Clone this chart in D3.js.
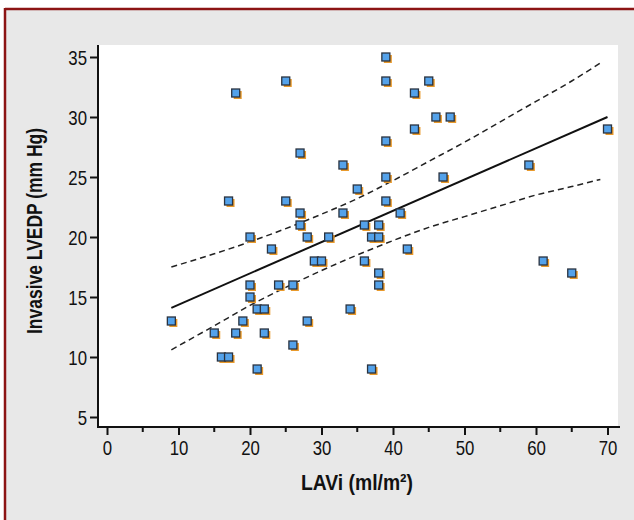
<!DOCTYPE html>
<html>
<head>
<meta charset="utf-8">
<script src="https://cdn.jsdelivr.net/npm/d3@7"></script>
<style>
  html, body { margin: 0; padding: 0; background: #fff; }
  svg { display: block; }
  .tick text { font-family: "Liberation Sans", Arial, sans-serif; font-size: 20px; fill: #111; }
  .axis-title { font-family: "Liberation Sans", Arial, sans-serif; font-weight: bold; fill: #111; }
</style>
</head>
<body>
<div id="chart"></div>
<script>
// --- Data ---
const lavi = [9, 15, 16, 17, 17, 18, 18, 19, 20, 20, 20, 21, 21, 22, 22, 23, 24, 25, 25, 26,
  26, 27, 27, 27, 28, 28, 29, 30, 31, 33, 33, 34, 35, 36, 36, 37, 37, 38, 38, 38,
  38, 39, 39, 39, 39, 39, 41, 42, 43, 43, 45, 46, 47, 48, 59, 61, 65, 70];
const lvedp = [13, 12, 10, 10, 23, 32, 12, 13, 20, 16, 15, 14, 9, 14, 12, 19, 16, 33, 23, 16,
  11, 27, 22, 21, 20, 13, 18, 18, 20, 26, 22, 14, 24, 21, 18, 20, 9, 21, 20, 17,
  16, 35, 33, 28, 25, 23, 22, 19, 32, 29, 33, 30, 25, 30, 26, 18, 17, 29];

// regression line endpoints
const fitX = [9, 70];
const fitY = [14.1, 30.0];

// 95% confidence band
const bandX = [9, 15, 20, 25, 30, 35, 40, 45, 50, 55, 60, 65, 69];
const bandUpper = [17.5, 18.6, 19.6, 20.7, 21.9, 23.2, 24.7, 26.3, 27.9, 29.6, 31.3, 33.0, 34.5];
const bandLower = [10.6, 12.6, 14.3, 15.8, 17.2, 18.5, 19.7, 20.8, 21.7, 22.6, 23.5, 24.2, 24.8];

const xTicks = [0, 10, 20, 30, 40, 50, 60, 70];
const xMinorTicks = [5, 15, 25, 35, 45, 55, 65];
const yTicks = [5, 10, 15, 20, 25, 30, 35];

// --- Layout ---
const W = 634, H = 520;
const plot = { left: 98, right: 618, top: 45, bottom: 427 };
const squeeze = 0.84; // narrow the digits, the original uses a condensed face

const x = d3.scaleLinear().domain([0, 70]).range([107, 607.5]);
const y = d3.scaleLinear().domain([5, 35]).range([417, 57]);

const svg = d3.select("#chart").append("svg").attr("width", W).attr("height", H);

// frame
svg.append("rect").attr("x", 5).attr("y", 9).attr("width", W).attr("height", H).attr("fill", "#e8e8e8");
svg.append("line").attr("x1", 5).attr("x2", W).attr("y1", 9).attr("y2", 9)
  .attr("stroke", "#8c1414").attr("stroke-width", 2.5);
svg.append("line").attr("x1", 5).attr("x2", 5).attr("y1", 8).attr("y2", H)
  .attr("stroke", "#8c1414").attr("stroke-width", 2.5);

// plot area
svg.append("rect").attr("x", plot.left).attr("y", plot.top)
  .attr("width", plot.right - plot.left).attr("height", plot.bottom - plot.top).attr("fill", "#fff");

// axes
const xAxis = svg.append("g").attr("transform", `translate(0,${plot.bottom})`)
  .call(d3.axisBottom(x).tickValues(xTicks).tickSize(8).tickPadding(6).tickSizeOuter(0));
xAxis.select(".domain").remove();
xAxis.selectAll(".tick line").attr("stroke", "#111").attr("stroke-width", 2);
xAxis.selectAll(".tick text").attr("y", 0).attr("dy", 0)
  .attr("transform", `translate(0,28) scale(${squeeze},1)`);

svg.append("g").attr("transform", `translate(0,${plot.bottom})`)
  .selectAll("line").data(xMinorTicks).join("line")
  .attr("x1", d => x(d)).attr("x2", d => x(d)).attr("y1", 0).attr("y2", 5)
  .attr("stroke", "#111").attr("stroke-width", 2);

const yAxis = svg.append("g").attr("transform", `translate(${plot.left},0)`)
  .call(d3.axisLeft(y).tickValues(yTicks).tickSize(8).tickPadding(4).tickSizeOuter(0));
yAxis.select(".domain").remove();
yAxis.selectAll(".tick line").attr("stroke", "#111").attr("stroke-width", 2);
yAxis.selectAll(".tick text").attr("x", 0).attr("dy", "0.36em")
  .attr("transform", `translate(-11,0) scale(${squeeze},1)`);

svg.append("line").attr("x1", plot.left).attr("x2", 620).attr("y1", plot.bottom).attr("y2", plot.bottom)
  .attr("stroke", "#111").attr("stroke-width", 2);
svg.append("line").attr("x1", plot.left).attr("x2", plot.left).attr("y1", plot.top).attr("y2", plot.bottom + 1)
  .attr("stroke", "#111").attr("stroke-width", 2);

// titles
svg.append("text").attr("class", "axis-title")
  .attr("transform", "translate(42,231) rotate(-90)")
  .attr("text-anchor", "middle").attr("font-size", 22)
  .attr("textLength", 206).attr("lengthAdjust", "spacingAndGlyphs")
  .text("Invasive LVEDP (mm Hg)");
svg.append("text").attr("class", "axis-title")
  .attr("x", 357).attr("y", 490).attr("text-anchor", "middle").attr("font-size", 22)
  .attr("textLength", 112).attr("lengthAdjust", "spacingAndGlyphs")
  .text("LAVi (ml/m²)");

// confidence band + fit
const line = d3.line().x(d => x(d[0])).y(d => y(d[1])).curve(d3.curveMonotoneX);
svg.append("path").datum(bandX.map((v, i) => [v, bandUpper[i]])).attr("d", line)
  .attr("fill", "none").attr("stroke", "#222").attr("stroke-width", 1.5).attr("stroke-dasharray", "6,4");
svg.append("path").datum(bandX.map((v, i) => [v, bandLower[i]])).attr("d", line)
  .attr("fill", "none").attr("stroke", "#222").attr("stroke-width", 1.5).attr("stroke-dasharray", "6,4");
svg.append("path").datum(fitX.map((v, i) => [v, fitY[i]])).attr("d", d3.line().x(d => x(d[0])).y(d => y(d[1])))
  .attr("fill", "none").attr("stroke", "#111").attr("stroke-width", 2);

// points
const pts = lavi.map((v, i) => ({ x: v, y: lvedp[i] }));
const s = 8;
const gp = svg.append("g");
gp.selectAll(".shadow").data(pts).join("rect").attr("class", "shadow")
  .attr("x", d => x(d.x) - s / 2 + 2).attr("y", d => y(d.y) - s / 2 + 2)
  .attr("width", s).attr("height", s).attr("fill", "#e99a2c");
gp.selectAll(".pt").data(pts).join("rect").attr("class", "pt")
  .attr("x", d => x(d.x) - s / 2).attr("y", d => y(d.y) - s / 2)
  .attr("width", s).attr("height", s)
  .attr("fill", "#54a2ea").attr("stroke", "#2a3340").attr("stroke-width", 1.3);
</script>
</body>
</html>
